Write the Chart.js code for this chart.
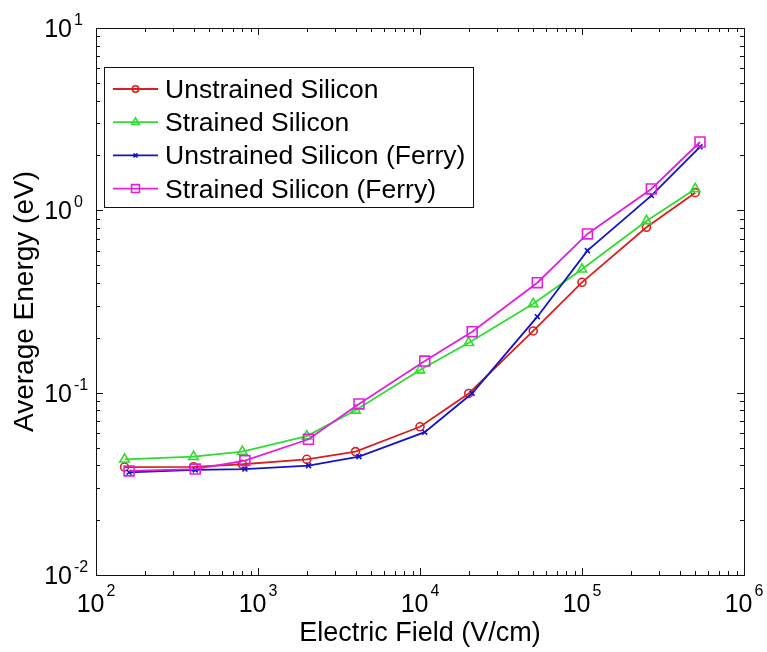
<!DOCTYPE html>
<html>
<head>
<meta charset="utf-8">
<script src="https://cdn.jsdelivr.net/npm/chart.js@4/dist/chart.umd.min.js"></script>
<style>
  body { margin: 0; background: #fff; }
  #wrap { width: 767px; height: 652px; }
</style>
</head>
<body>
<div id="wrap"><canvas id="Chart" width="767" height="652"></canvas></div>
<script>
// electric field (V/cm)
const fieldStd = [150, 400, 800, 2000, 4000, 10000, 20000, 50000, 100000, 250000, 500000];
const fieldFerry = [160, 410, 830, 2050, 4200, 10700, 21000, 53000, 108000, 268000, 535000];

// average energy (eV)
const unstrained = [0.0391, 0.0392, 0.0405, 0.0431, 0.0475, 0.065, 0.099, 0.218, 0.403, 0.807, 1.25];
const strained = [0.0431, 0.0446, 0.0475, 0.0578, 0.080, 0.133, 0.188, 0.307, 0.475, 0.875, 1.31];
const unstrainedFerry = [0.0366, 0.0377, 0.0381, 0.0398, 0.0446, 0.0607, 0.0992, 0.261, 0.601, 1.205, 2.23];
const strainedFerry = [0.0372, 0.0381, 0.0424, 0.0555, 0.0867, 0.149, 0.216, 0.401, 0.742, 1.31, 2.37];

const seriesNames = ['Unstrained Silicon', 'Strained Silicon', 'Unstrained Silicon (Ferry)', 'Strained Silicon (Ferry)'];
const xTickExps = [2, 3, 4, 5, 6];
const yTickExps = [-2, -1, 0, 1];

const FONT = '"Liberation Sans", Arial, Helvetica, sans-serif';

function pts(xs, ys) {
  return xs.map((x, i) => ({ x: x, y: ys[i] }));
}

function mkSet(label, data, color, style, r, order) {
  return {
    label: label,
    data: data,
    showLine: true,
    borderColor: color,
    borderWidth: 1.8,
    pointStyle: style,
    pointRadius: r,
    pointBorderColor: color,
    pointBackgroundColor: 'rgba(0,0,0,0)',
    pointBorderWidth: 1.6,
    order: order
  };
}

function txt(ctx, s, x, y, size, align) {
  ctx.font = size + 'px ' + FONT;
  ctx.textAlign = align;
  ctx.textBaseline = 'alphabetic';
  ctx.fillText(s, x, y);
}

// box, ticks, labels, legend (matlab look)
const matlabAxes = {
  id: 'matlabAxes',
  afterDraw(chart) {
    const ctx = chart.ctx;
    const a = chart.chartArea;
    const xs = chart.scales.x, ys = chart.scales.y;
    ctx.save();
    ctx.strokeStyle = '#111';
    ctx.lineWidth = 1;
    ctx.strokeRect(Math.round(a.left) + 0.5, Math.round(a.top) + 0.5,
      Math.round(a.right - a.left), Math.round(a.bottom - a.top));

    // tick marks
    ctx.beginPath();
    for (let d = 2; d <= 6; d++) {
      for (let m = 1; m <= 9; m++) {
        if (d === 6 && m > 1) break;
        const px = Math.round(xs.getPixelForValue(m * Math.pow(10, d))) + 0.5;
        const len = m === 1 ? 7 : 4;
        ctx.moveTo(px, a.bottom); ctx.lineTo(px, a.bottom - len);
        ctx.moveTo(px, a.top); ctx.lineTo(px, a.top + len);
      }
    }
    for (let d = -2; d <= 1; d++) {
      for (let m = 1; m <= 9; m++) {
        if (d === 1 && m > 1) break;
        const py = Math.round(ys.getPixelForValue(m * Math.pow(10, d))) + 0.5;
        const len = m === 1 ? 7 : 4;
        ctx.moveTo(a.left, py); ctx.lineTo(a.left + len, py);
        ctx.moveTo(a.right, py); ctx.lineTo(a.right - len, py);
      }
    }
    ctx.stroke();

    // tick labels
    ctx.fillStyle = '#000';
    ctx.font = '25px ' + FONT;
    const w10 = ctx.measureText('10').width;
    xTickExps.forEach(e => {
      const px = xs.getPixelForValue(Math.pow(10, e));
      ctx.font = '16px ' + FONT;
      const we = ctx.measureText(String(e)).width;
      const x0 = px - (w10 + 2 + we) / 2;
      txt(ctx, '10', x0, a.bottom + 37, 25, 'left');
      txt(ctx, String(e), x0 + w10 + 2, a.bottom + 21, 16, 'left');
    });
    yTickExps.forEach(e => {
      const py = ys.getPixelForValue(Math.pow(10, e));
      txt(ctx, '10', a.left - 24, py + 9, 25, 'right');
      txt(ctx, String(e), a.left - 22, py - 3, 16, 'left');
    });

    // axis titles
    txt(ctx, 'Electric Field (V/cm)', (a.left + a.right) / 2, 641, 27, 'center');
    ctx.save();
    ctx.translate(33, (a.top + a.bottom) / 2);
    ctx.rotate(-Math.PI / 2);
    txt(ctx, 'Average Energy (eV)', 0, 0, 28, 'center');
    ctx.restore();

    // legend
    const lx = 104, ly = 67, lw = 369, lh = 140;
    ctx.fillStyle = '#fff';
    ctx.fillRect(lx, ly, lw, lh);
    ctx.strokeStyle = '#111';
    ctx.lineWidth = 1;
    ctx.strokeRect(lx + 0.5, ly + 0.5, lw, lh);
    chart.data.datasets.forEach((ds, i) => {
      const ry = 89 + i * 33.2;
      ctx.strokeStyle = ds.borderColor;
      ctx.lineWidth = ds.borderWidth;
      ctx.beginPath();
      ctx.moveTo(113, ry); ctx.lineTo(158, ry);
      ctx.stroke();
      ctx.fillStyle = 'rgba(0,0,0,0)';
      ctx.lineWidth = ds.pointBorderWidth;
      Chart.helpers.drawPoint(ctx, {
        pointStyle: ds.pointStyle, radius: ds.pointRadius * 0.8,
        rotation: 0, borderWidth: ds.pointBorderWidth
      }, 135.5, ry);
      ctx.fillStyle = '#000';
      txt(ctx, ds.label, 165, ry + 9, 26.5, 'left');
    });
    ctx.restore();
  }
};

let lineCtx = document.getElementById('Chart');
let lineConfig = {
  type: 'scatter',
  data: {
    datasets: [
      mkSet(seriesNames[0], pts(fieldStd, unstrained), '#d82020', 'circle', 4, 4),
      mkSet(seriesNames[1], pts(fieldStd, strained), '#30dc30', 'triangle', 5.5, 3),
      mkSet(seriesNames[2], pts(fieldFerry, unstrainedFerry), '#1414c8', 'crossRot', 3.5, 2),
      mkSet(seriesNames[3], pts(fieldFerry, strainedFerry), '#e020e0', 'rect', 7, 1)
    ]
  },
  options: {
    responsive: false,
    animation: false,
    layout: { padding: { left: 96, right: 23, top: 28, bottom: 77 } },
    plugins: { legend: { display: false }, tooltip: { enabled: false } },
    scales: {
      x: {
        type: 'logarithmic', min: 100, max: 1e6,
        ticks: { display: false }, grid: { display: false, drawTicks: false },
        border: { display: false }
      },
      y: {
        type: 'logarithmic', min: 0.01, max: 10,
        ticks: { display: false }, grid: { display: false, drawTicks: false },
        border: { display: false }
      }
    }
  },
  plugins: [matlabAxes]
};
let lineChart = new Chart(lineCtx, lineConfig);
</script>
</body>
</html>
